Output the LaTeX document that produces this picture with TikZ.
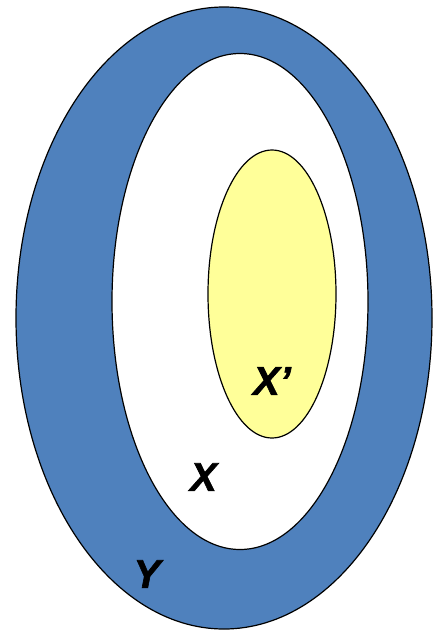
\documentclass[tikz,border=0pt]{standalone}
\usepackage{fontspec}
\setmainfont{Liberation Sans}
\newfontfamily\lblfont{Liberation Sans Bold Italic}[FakeBold=1.5]
\definecolor{yblue}{HTML}{4F81BD}
\definecolor{xyellow}{HTML}{FFFF99}
\begin{document}
\begin{tikzpicture}[x=1pt,y=-1pt,
  ring/.style={draw=black,line width=1.2pt},
  lbl/.style={font=\lblfont\fontsize{40}{40}\selectfont,inner sep=0pt}]
\useasboundingbox (0,0) rectangle (438,632);
\filldraw[ring,fill=yblue] (224,318) ellipse [x radius=208,y radius=311];
\filldraw[ring,fill=white] (240,301.5) ellipse [x radius=128,y radius=248];
\filldraw[ring,fill=xyellow] (272,294) ellipse [x radius=64,y radius=144];
\node[lbl] (xp) at (272,381) {X’};
\node[lbl] (x) at (203.5,477) {X};
\node[lbl] (y) at (147,574) {Y};
\end{tikzpicture}
\end{document}
